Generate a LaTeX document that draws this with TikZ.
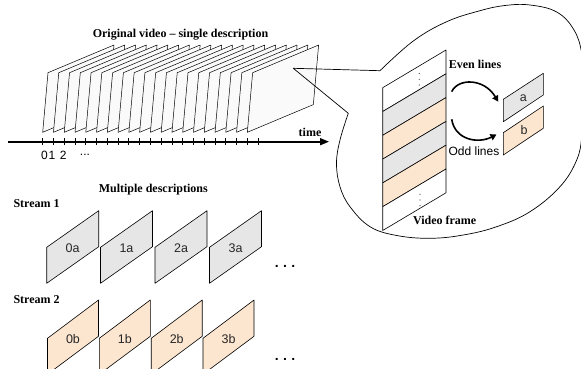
\documentclass[tikz,border=0pt]{standalone}
\usepackage{fontspec}
\setmainfont{Liberation Serif}
\newfontfamily\arialf{Liberation Sans}
\usetikzlibrary{arrows.meta}
\definecolor{boxgrey}{RGB}{230,230,230}
\definecolor{peach}{RGB}{252,230,208}
\definecolor{framefill}{RGB}{250,250,250}
\begin{document}
\begin{tikzpicture}[x=1pt,y=-1pt,
  lbl/.style={font=\bfseries\fontsize{12}{14}\selectfont, inner sep=0pt},
  slbl/.style={font=\arialf\fontsize{12.5}{14}\selectfont, inner sep=0pt, text=black!85},
  numlbl/.style={font=\arialf\fontsize{12}{14}\selectfont, inner sep=0pt},
  frm/.style={draw=black, fill=framefill, line width=0.5pt, line join=round},
  gbox/.style={draw=black, fill=boxgrey, line width=0.6pt, line join=round},
  obox/.style={draw=black, fill=peach, line width=0.6pt, line join=round},
  axisline/.style={line width=1.6pt, -{Triangle[length=9pt,width=7pt]}},
  bentarrow/.style={line width=1.6pt, -{Triangle[length=6pt,width=6.5pt]}},
  callout/.style={line width=0.7pt, line join=round},
  bigdots/.style={font=\arialf\bfseries\fontsize{14}{14}\selectfont, inner sep=0pt}
]
\useasboundingbox (0,0) rectangle (581,369);
\clip (0,0) rectangle (581,369);

% ---------- original video frames ----------
\foreach \k in {0,...,19}{
  \pgfmathsetmacro\xx{42.7+10.77*\k}
  \draw[frm] (\xx,132.3) -- ++(5.3,-59.6) -- ++(66,-27.7) -- ++(-5.3,59.6) -- cycle;
}
\node[lbl] (title) at (180.5,34.3) {Original video -- single description};

% ---------- time axis ----------
\coordinate (tstart) at (8.3,141.7);
\coordinate (tend) at (329,141.7);
\draw[axisline] (tstart) -- (tend);
\foreach \k in {0,...,20}{
  \draw[line width=0.8pt] ({42.7+10.77*\k},138.3) -- ++(0,7);
}
\node[lbl] (time) at (310,132.3) {time};
\node[numlbl] (n0) at (44.5,155) {0};
\node[numlbl] (n1) at (52,155) {1};
\node[numlbl] (n2) at (63.3,155) {2};
\node[numlbl] (ndots) at (85,155) {...};

% ---------- callout ----------
\coordinate (zoomsrc) at (293.3,68.3);
\coordinate (blobA) at (380,70.7);
\coordinate (blobB) at (348.3,113.3);
\draw[callout] (blobA) -- (zoomsrc) -- (blobB);
\draw[callout] plot[smooth, tension=0.65] coordinates {
  (348.3,113.3) (340,140) (336.5,163.3) (340,186.7) (350,206.7) (370,226.7)
  (396.7,235.5) (430,238.3) (463.3,235) (496.7,226.7) (530,211.7) (560,186.7)
  (576.7,160) (582,135) (585,95) (582,55) (574,30) (556.7,12) (530,5)
  (505,5.5) (480,10.7) (446.7,21.7) (413.3,41) (380,70.7)};

% ---------- zoomed video frame ----------
\foreach \i/\c in {0/white,1/boxgrey,2/peach,3/boxgrey,4/peach,5/white}{
  \pgfmathsetmacro\ya{87.7+23.8*\i}
  \pgfmathsetmacro\yb{\ya+23.8}
  \draw[draw=black, fill=\c, line width=0.6pt, line join=round]
    (382.7,\ya) -- (446,{\ya-37.7}) -- (446,{\yb-37.7}) -- (382.7,\yb) -- cycle;
}
\foreach \y in {73.5,79.3,85}{ \fill[black!75] (419.3,\y) circle (0.6); }
\foreach \y in {194.3,200,205.7}{ \fill[black!75] (420,\y) circle (0.6); }
\node[lbl] (vframe) at (444.7,220) {Video frame};

\node[lbl] (even) at (475,64.5) {Even lines};
\node[slbl, text=black, font=\arialf\fontsize{12}{14}\selectfont] (odd) at (474,151.5) {Odd lines};

\draw[gbox] (503.3,99.3) -- (543.3,73.3) -- (543.3,95) -- (503.3,121.7) -- cycle;
\node[slbl] (la) at (523.3,98.3) {a};
\draw[obox] (503.3,132.7) -- (543.3,106) -- (543.3,128.3) -- (503.3,155) -- cycle;
\node[slbl] (lb) at (524,130) {b};

\coordinate (evS) at (451.7,91.7);
\coordinate (evE) at (498.3,101.7);
\draw[bentarrow] (evS) .. controls (458,78) and (484,78) .. (evE);
\coordinate (odS) at (451.7,119.3);
\coordinate (odE) at (496.5,134.5);
\draw[bentarrow] (odS) .. controls (455,140) and (478,144) .. (odE);

% ---------- multiple descriptions ----------
\node[lbl] (multi) at (153.3,189.3) {Multiple descriptions};
\node[lbl, anchor=west] (s1) at (13.3,203.3) {Stream 1};
\node[lbl, anchor=west] (s2) at (13.3,299.3) {Stream 2};

\foreach \L/\t in {46.7/0a,100.5/1a,155/2a,209.5/3a}{
  \draw[gbox] (\L,247.3) -- ({\L+52},210.7) -- ({\L+52},246.7) -- (\L,283.3) -- cycle;
  \node[slbl] (g\t) at ({\L+26},248) {\t};
}
\foreach \L/\t in {47.5/0b,99.3/1b,151.2/2b,203/3b}{
  \draw[obox] (\L,338.3) -- ({\L+51},300) -- ({\L+51},336.3) -- (\L,374.3) -- cycle;
  \node[slbl] (o\t) at ({\L+25.5},339) {\t};
}
\node[bigdots] (dots1) at (285,266) {.\kern4.4pt.\kern4.4pt.};
\node[bigdots] (dots2) at (285,359) {.\kern4.4pt.\kern4.4pt.};
\end{tikzpicture}
\end{document}
